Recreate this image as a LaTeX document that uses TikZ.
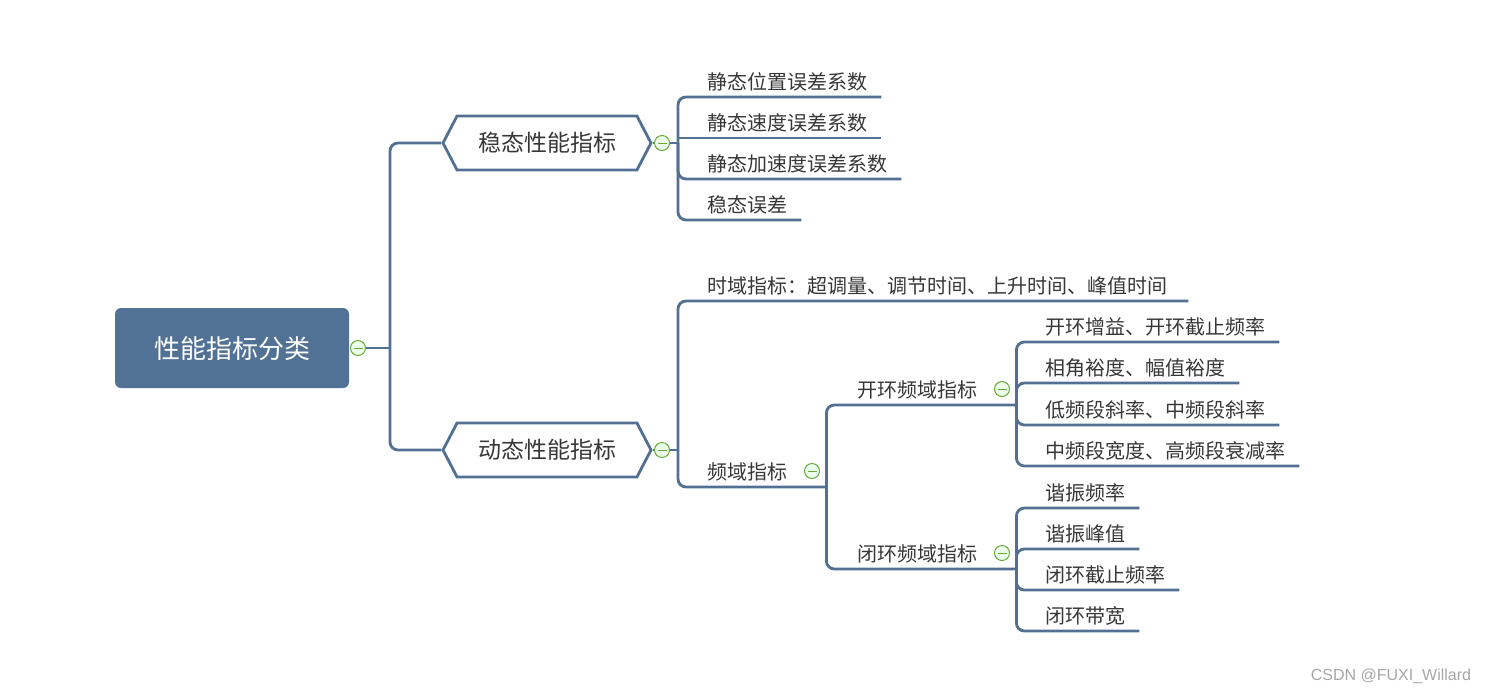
\documentclass[tikz,border=0pt]{standalone}
\usepackage{fontspec}
\setmainfont{Noto Sans CJK SC}
\newfontfamily\wmfont{Liberation Sans}
\usetikzlibrary{shapes.symbols}
\definecolor{mmblue}{RGB}{82,112,146}
\definecolor{rootblue}{RGB}{81,114,149}
\definecolor{txtgray}{RGB}{55,55,55}
\definecolor{togreen}{RGB}{104,168,58}

\begin{document}
\begin{tikzpicture}[x=1pt,y=-1pt,
    link/.style={draw=mmblue,line width=2.8pt,rounded corners=8pt},
    leaf/.style={anchor=south west,inner xsep=14pt,inner ysep=5.5pt,text height=16pt,text depth=2pt,
        font=\fontsize{20pt}{24pt}\selectfont,text=txtgray},
    hexa/.style={signal,signal to=west and east,signal pointer angle=125,draw=mmblue,line width=2.8pt,
        fill=white,minimum width=208pt,minimum height=54pt,text height=19pt,text depth=2pt,
        font=\fontsize{23pt}{28pt}\selectfont,text=txtgray},
    toggle/.style={circle,draw=togreen,line width=1pt,fill=green!8,minimum size=15pt,inner sep=0pt,
        path picture={\draw[togreen,line width=1pt] ([xshift=-4.5pt]path picture bounding box.center)
            -- ([xshift=4.5pt]path picture bounding box.center);}}]
    \useasboundingbox (0,0) rectangle (1487,694);

    % Wurzel
    \node[rounded corners=6pt,fill=rootblue,minimum width=234pt,minimum height=80pt,text=white,
        text height=22pt,text depth=2pt,font=\fontsize{26pt}{30pt}\selectfont] (root) at (232,348) {性能指标分类};
    \node[toggle] (tgRoot) at (358,348) {};
    \coordinate (hubR) at (390,348);

    % zwei Hauptaeste
    \node[hexa] (steady) at (547,143) {稳态性能指标};
    \node[hexa] (dyn) at (547,450) {动态性能指标};
    \draw[link] (tgRoot.east) -- (hubR);
    \draw[link] (hubR) |- (steady.west);
    \draw[link] (hubR) |- (dyn.west);

    % stationaer
    \node[toggle] (tgSteady) at (662,143) {};
    \coordinate (hubS) at (678,143);
    \draw[link] (steady.east) -- (tgSteady.west);
    \draw[link] (tgSteady.east) -- (hubS);
    \node[leaf] (s1) at (693,97) {静态位置误差系数};
    \node[leaf] (s2) at (693,138) {静态速度误差系数};
    \node[leaf] (s3) at (693,179) {静态加速度误差系数};
    \node[leaf] (s4) at (693,220) {稳态误差};
    \draw[link] (hubS) |- (s1.south east);
    \draw[link] (s2.south east -| hubS) -- (s2.south east);
    \draw[link] (hubS) |- (s3.south east);
    \draw[link] (hubS) |- (s4.south east);

    % dynamisch
    \node[toggle] (tgDyn) at (662,450) {};
    \coordinate (hubD) at (678,450);
    \draw[link] (dyn.east) -- (tgDyn.west);
    \draw[link] (tgDyn.east) -- (hubD);
    \node[leaf,text width=467pt,align=left] (time) at (693,301) {时域指标：超调量、调节时间、上升时间、峰值时间};
    \node[leaf,text width=105pt] (freq) at (693,487) {频域指标};
    \node[toggle] (tgFreq) at (812,471) {};
    \draw[link] (hubD) |- (time.south east);
    \draw[link] (hubD) |- (freq.south east);

    % Frequenzbereich
    \coordinate (hubF) at (freq.south east);
    \node[leaf,text width=145pt] (open) at (843,405) {开环频域指标};
    \node[leaf,text width=145pt] (closed) at (843,569) {闭环频域指标};
    \node[toggle] (tgOpen) at (1002,389) {};
    \node[toggle] (tgClosed) at (1002,553) {};
    \draw[link] (hubF) |- (open.south east);
    \draw[link] (hubF) |- (closed.south east);

    % offener Kreis
    \coordinate (hubO) at (open.south east);
    \node[leaf] (o1) at (1031,342) {开环增益、开环截止频率};
    \node[leaf] (o2) at (1031,383) {相角裕度、幅值裕度};
    \node[leaf] (o3) at (1031,425) {低频段斜率、中频段斜率};
    \node[leaf] (o4) at (1031,466) {中频段宽度、高频段衰减率};
    \foreach \n in {o1,o2,o3,o4}
        \draw[link] (hubO) |- (\n.south east);

    % geschlossener Kreis
    \coordinate (hubC) at (closed.south east);
    \node[leaf] (c1) at (1031,508) {谐振频率};
    \node[leaf] (c2) at (1031,549) {谐振峰值};
    \node[leaf] (c3) at (1031,590) {闭环截止频率};
    \node[leaf] (c4) at (1031,631) {闭环带宽};
    \foreach \n in {c1,c2,c3,c4}
        \draw[link] (hubC) |- (\n.south east);

    \node[text=gray!70,font=\wmfont\fontsize{16pt}{18pt}\selectfont] (mark) at (1391,676) {CSDN @FUXI\_Willard};
\end{tikzpicture}
\end{document}
